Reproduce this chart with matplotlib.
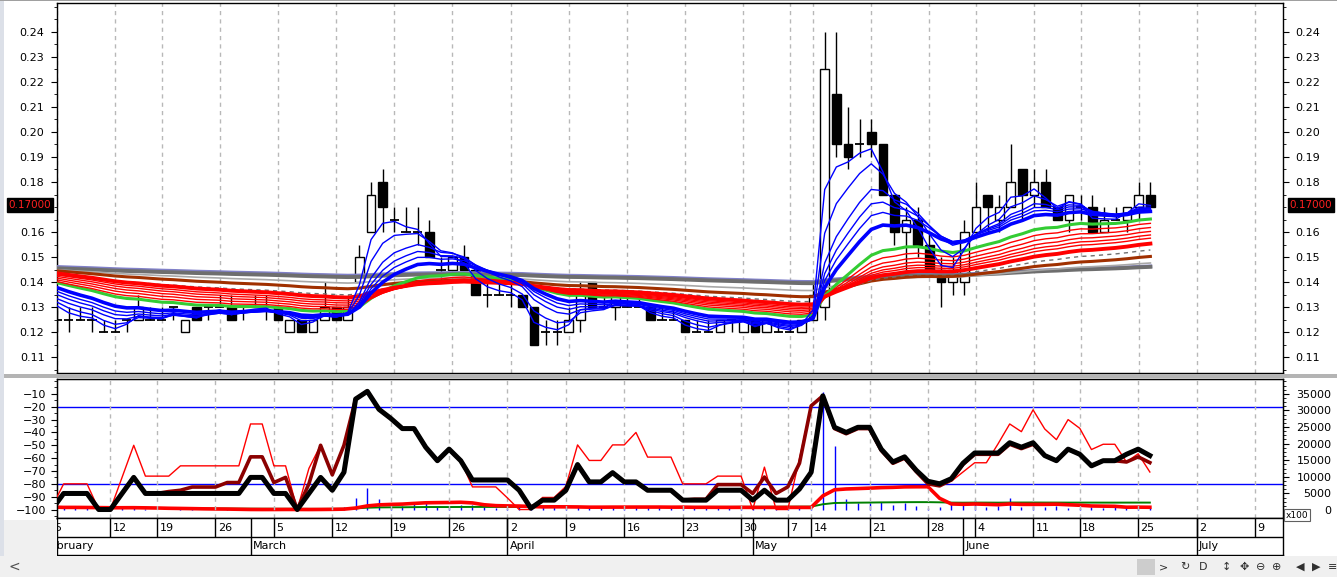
import numpy as np
import matplotlib
matplotlib.use('Agg')
import matplotlib.pyplot as plt
import pandas as pd
from matplotlib.patches import Rectangle
from matplotlib.ticker import MultipleLocator, FuncFormatter

plt.rcParams['font.family'] = ['DejaVu Sans']

# ---------------- data (trading-day index 0 = Feb 5) ----------------
opens = [0.125, 0.125, 0.125, 0.125, 0.12, 0.12, 0.125, 0.125, 0.125, 0.125,
         0.13, 0.12, 0.13, 0.13, 0.13, 0.13, 0.13, 0.13, 0.13, 0.13,
         0.12, 0.125, 0.12, 0.125, 0.13, 0.125, 0.14, 0.16, 0.18, 0.165,
         0.16, 0.16, 0.16, 0.145, 0.145, 0.15, 0.145, 0.135, 0.135, 0.135,
         0.135, 0.13, 0.12, 0.12, 0.12, 0.125, 0.14, 0.13, 0.13, 0.13,
         0.13, 0.13, 0.125, 0.125, 0.125, 0.12, 0.12, 0.12, 0.125, 0.12,
         0.125, 0.12, 0.12, 0.12, 0.12, 0.125, 0.13, 0.215, 0.195, 0.195,
         0.20, 0.195, 0.175, 0.16, 0.165, 0.155, 0.145, 0.14, 0.14, 0.16,
         0.175, 0.165, 0.17, 0.185, 0.175, 0.18, 0.17, 0.165, 0.17, 0.17,
         0.16, 0.165, 0.165, 0.17, 0.175]
highs = [0.13, 0.13, 0.13, 0.13, 0.125, 0.125, 0.125, 0.135, 0.13, 0.13,
         0.13, 0.125, 0.13, 0.13, 0.135, 0.135, 0.13, 0.135, 0.135, 0.13,
         0.125, 0.125, 0.125, 0.14, 0.13, 0.135, 0.155, 0.18, 0.185, 0.17,
         0.17, 0.17, 0.165, 0.15, 0.15, 0.155, 0.145, 0.14, 0.14, 0.14,
         0.135, 0.13, 0.125, 0.125, 0.13, 0.14, 0.14, 0.135, 0.135, 0.135,
         0.135, 0.13, 0.13, 0.13, 0.125, 0.125, 0.125, 0.125, 0.125, 0.125,
         0.125, 0.125, 0.125, 0.125, 0.125, 0.14, 0.24, 0.24, 0.21, 0.205,
         0.205, 0.195, 0.175, 0.17, 0.17, 0.16, 0.15, 0.15, 0.165, 0.18,
         0.175, 0.175, 0.195, 0.185, 0.185, 0.185, 0.17, 0.175, 0.175, 0.175,
         0.17, 0.17, 0.17, 0.18, 0.18]
lows = [0.12, 0.12, 0.125, 0.12, 0.12, 0.12, 0.12, 0.125, 0.125, 0.125,
        0.125, 0.12, 0.125, 0.125, 0.13, 0.125, 0.125, 0.13, 0.125, 0.125,
        0.12, 0.12, 0.12, 0.125, 0.125, 0.125, 0.14, 0.16, 0.16, 0.16,
        0.16, 0.155, 0.15, 0.14, 0.145, 0.145, 0.135, 0.13, 0.135, 0.13,
        0.13, 0.115, 0.115, 0.115, 0.12, 0.12, 0.13, 0.13, 0.125, 0.13,
        0.13, 0.125, 0.125, 0.125, 0.12, 0.12, 0.12, 0.12, 0.12, 0.12,
        0.12, 0.12, 0.12, 0.12, 0.12, 0.125, 0.125, 0.19, 0.185, 0.19,
        0.19, 0.175, 0.155, 0.145, 0.15, 0.145, 0.13, 0.135, 0.135, 0.16,
        0.16, 0.16, 0.17, 0.165, 0.17, 0.17, 0.165, 0.16, 0.165, 0.16,
        0.16, 0.165, 0.16, 0.165, 0.17]
closes = [0.125, 0.125, 0.125, 0.125, 0.12, 0.12, 0.125, 0.13, 0.125, 0.125,
          0.13, 0.125, 0.125, 0.13, 0.13, 0.125, 0.13, 0.13, 0.13, 0.125,
          0.125, 0.12, 0.125, 0.13, 0.125, 0.13, 0.15, 0.175, 0.17, 0.165,
          0.16, 0.16, 0.15, 0.145, 0.15, 0.145, 0.135, 0.135, 0.135, 0.135,
          0.13, 0.115, 0.12, 0.12, 0.125, 0.135, 0.13, 0.13, 0.135, 0.13,
          0.13, 0.125, 0.125, 0.125, 0.12, 0.12, 0.12, 0.125, 0.125, 0.125,
          0.12, 0.125, 0.12, 0.12, 0.125, 0.135, 0.225, 0.195, 0.19, 0.195,
          0.195, 0.175, 0.16, 0.165, 0.155, 0.145, 0.14, 0.145, 0.16, 0.17,
          0.17, 0.17, 0.18, 0.175, 0.18, 0.17, 0.165, 0.175, 0.17, 0.16,
          0.165, 0.165, 0.17, 0.175, 0.17]
volume = [900, 700, 800, 700, 600, 500, 700, 800, 300, 150,
          100, 200, 250, 100, 150, 200, 100, 200, 150, 200,
          250, 150, 100, 300, 500, 800, 3500, 6500, 3400, 1500,
          1200, 2200, 2000, 800, 900, 1500, 1500, 1000, 700, 700,
          800, 900, 800, 1000, 800, 1200, 800, 1000, 900, 700,
          900, 900, 800, 700, 900, 700, 800, 900, 800, 800,
          700, 900, 700, 800, 900, 600, 35600, 19200, 3300, 2000,
          2000, 2500, 1500, 2200, 1200, 700, 800, 2200, 2200, 3000,
          1000, 1300, 3700, 1000, 1200, 800, 1300, 500, 700, 800,
          500, 800, 1000, 1200, 800]
wr_black = [-100, -87.5, -87.5, -87.5, -100, -100, -87.5, -75, -87.5, -87.5,
            -87.5, -87.5, -87.5, -87.5, -87.5, -87.5, -87.5, -75, -75, -87.5,
            -87.5, -100, -87.5, -75, -85, -71, -14, -8, -22, -29,
            -37, -37, -51.5, -62, -53, -62, -77, -77, -77, -77,
            -85, -99, -92.7, -92.7, -85, -65, -78.5, -78.5, -71.3, -78.5,
            -78.5, -85, -85, -85, -92.7, -92.7, -92.7, -85, -85, -85,
            -92.7, -85, -92.7, -92.7, -84, -71, -11.5, -36, -40, -36,
            -36, -53, -63, -59, -69.5, -78, -80, -76, -64, -56,
            -56, -56, -48, -51.5, -48, -58, -62, -53, -57, -66,
            -62, -62, -57, -53, -58]
wr_darkred = [-100, -87.5, -87.5, -87.5, -100, -100, -87.5, -75, -87.5, -87.5,
              -86, -85, -82.5, -82.5, -82.5, -79, -79, -59, -59, -79,
              -75, -100, -80, -50, -73, -50, -14, -8, -22, -29,
              -37, -37, -51.5, -62, -53, -62, -77, -77, -77, -77,
              -85, -99, -92.7, -92.7, -85, -65, -78.5, -78.5, -71.3, -78.5,
              -78.5, -85, -85, -85, -92.7, -92, -92, -80.6, -80.6, -80.6,
              -87.5, -74.7, -87.5, -82.4, -64, -19.3, -11.5, -37, -41, -37,
              -37, -54, -64, -60, -70.5, -80, -81.6, -77, -65, -57,
              -57, -57, -49.2, -52.6, -49.2, -58, -62, -53, -57, -66,
              -62, -62, -63, -59, -63.5]
wr_red = [-98, -80, -80, -80, -100, -100, -75, -50, -74, -74,
          -74, -66, -66, -66, -66, -66, -66, -33.4, -33.4, -66,
          -66, -100, -68, -50, -73, -50, -14, -8, -22, -29,
          -37, -37, -51.5, -62, -53, -62, -82.4, -82.4, -82.4, -91,
          -100, -100, -90.6, -90.6, -82, -49.7, -61.8, -61.8, -49.7, -49.7,
          -40, -59.2, -59.2, -59.2, -80, -80, -80, -74, -74, -74,
          -100, -67, -100, -100, -60.5, -19.3, -11.5, -37, -41, -37,
          -37, -54, -64, -60, -70, -78, -79, -78, -70.8, -63.6,
          -63.6, -48.9, -33.4, -39.4, -22.4, -37.3, -45.6, -30, -36.8, -53.3,
          -49.2, -49.2, -63, -56.6, -70.8]

day_tick_idx = [0, 5, 9, 14, 19, 24, 29, 34, 39, 44, 49, 54, 59, 63, 65, 70,
                75, 79, 84, 88, 93, 98, 103]
day_tick_lab = ['5', '12', '19', '26', '5', '12', '19', '26', '2', '9', '16',
                '23', '30', '7', '14', '21', '28', '4', '11', '18', '25', '2', '9']
month_idx = [-0.8, 17, 39, 60, 78, 98]
month_lab = ['February', 'March', 'April', 'May', 'June', 'July']

# price-axis labels (0.17 is covered by the last-price tag)
price_ticks = [0.11, 0.12, 0.13, 0.14, 0.15, 0.16, 0.18, 0.19, 0.20, 0.21,
               0.22, 0.23, 0.24]

# moving-average settings: (period, value at day 0)
short_periods = [3, 5, 8, 10, 12, 15]
short_seeds = [0.1305, 0.132, 0.1334, 0.135, 0.1363, 0.1378]
long_periods = [30, 35, 40, 45, 50, 60]
long_seeds = [0.1402, 0.1409, 0.1416, 0.1423, 0.1429, 0.1435]
other_mas = [(25, 0.1398, '#33CC33', 2.2, '-'),
             (75, 0.1430, '#707070', 1.0, (0, (3, 3))),
             (100, 0.1445, '#A03000', 2.2, '-'),
             (150, 0.1449, '#A8A8A8', 1.2, '-'),
             (250, 0.1455, '#6E6E6E', 2.8, '-'),
             (260, 0.1461, '#8080C8', 2.6, '-')]


def ema(vals, period, seed):
    a = 2.0 / (period + 1)
    out = [seed]
    for v in vals[1:]:
        out.append(out[-1] + a * (v - out[-1]))
    return np.array(out)


# ---------------- figure ----------------
W, H = 1337, 577
fig = plt.figure(figsize=(W / 100, H / 100), dpi=100)
fig.patch.set_facecolor('white')


def box(l, t, r, b):
    return [l / W, 1 - b / H, (r - l) / W, (b - t) / H]


# background pieces
fig.patches.append(Rectangle((0, 0), 1, 21 / H, transform=fig.transFigure,
                             facecolor='#F0F0F0', edgecolor='none', zorder=0))
fig.patches.append(Rectangle((0, 21 / H), 57 / W, 36 / H, transform=fig.transFigure,
                             facecolor='#F0F0F0', edgecolor='none', zorder=0))
fig.patches.append(Rectangle((0, 1 - 378 / H), 1, 4 / H, transform=fig.transFigure,
                             facecolor='#B4B4B4', edgecolor='none', zorder=0))
fig.patches.append(Rectangle((0, 21 / H), 4 / W, 1 - 21 / H, transform=fig.transFigure,
                             facecolor='#DCE0E8', edgecolor='none', zorder=0))
fig.patches.append(Rectangle((0, 1 - 1 / H), 1, 1 / H, transform=fig.transFigure,
                             facecolor='#A0A0A0', edgecolor='none', zorder=0))

ax = fig.add_axes(box(57, 3, 1283, 373))
ax2 = fig.add_axes(box(57, 379, 1283, 518))
axd = fig.add_axes(box(57, 518, 1283, 555))
X0, X1 = 0.43, 105.4
for a in (ax, ax2, axd):
    a.set_xlim(X0, X1)
    for s in a.spines.values():
        s.set_color('black')
        s.set_linewidth(1)

n = len(closes)
idx = np.arange(n)
o = np.array(opens); h = np.array(highs); l = np.array(lows); c = np.array(closes)

# ---- main panel ----
ax.set_ylim(0.1037, 0.2515)
ax.set_xticks(day_tick_idx)
ax.tick_params(axis='x', length=0, labelbottom=False)
ax.grid(axis='x', color='#B8B8B8', linestyle=(0, (3, 3)), linewidth=1)
ax.set_yticks(price_ticks)
ax.yaxis.set_minor_locator(MultipleLocator(0.005))
ax.yaxis.set_major_formatter(FuncFormatter(lambda v, p: f'{v:.2f}'))
ax.tick_params(axis='y', which='both', direction='out', left=True, right=True,
               labelleft=True, labelright=True, labelsize=8, pad=5)
ax.tick_params(axis='y', which='major', length=4)
ax.tick_params(axis='y', which='minor', length=2)

ax.vlines(idx, l, h, color='black', lw=1, zorder=2)
up = c > o
dn = c < o
eq = c == o
ax.bar(idx[up], (c - o)[up], bottom=o[up], width=0.75, facecolor='white',
       edgecolor='black', linewidth=1, zorder=2.2)
ax.bar(idx[dn], (o - c)[dn], bottom=c[dn], width=0.75, facecolor='black',
       edgecolor='black', linewidth=1, zorder=2.2)
ax.hlines(c[eq], idx[eq] - 0.4, idx[eq] + 0.4, color='black', lw=1.3, zorder=2.2)

for per, seed, col, lw, ls in other_mas[::-1]:
    ax.plot(idx, ema(closes, per, seed), color=col, lw=lw, ls=ls, zorder=3)
for k, (per, seed) in enumerate(zip(long_periods, long_seeds)):
    ax.plot(idx, ema(closes, per, seed), color='#FF0000',
            lw=2.8 if k == len(long_periods) - 1 else 1.0, zorder=3.2)
for k, (per, seed) in enumerate(zip(short_periods, short_seeds)):
    ax.plot(idx, ema(closes, per, seed), color='#0000FF',
            lw=2.6 if k == len(short_periods) - 1 else 1.0, zorder=3.4)

last = f'{closes[-1]:.5f}'
for xa, dx in ((0, -27), (1, 28)):
    ax.annotate(last, xy=(xa, closes[-1]), xycoords=('axes fraction', 'data'),
                xytext=(dx, 2), textcoords='offset pixels', ha='center', va='center',
                fontsize=7.5, color='#FF2020', annotation_clip=False,
                bbox=dict(boxstyle='square,pad=0.15', facecolor='black', edgecolor='black'))

# ---- lower panel ----
ax2.set_ylim(-106.6, 1.6)
ax2.set_xticks(day_tick_idx)
ax2.tick_params(axis='x', length=0, labelbottom=False)
ax2.grid(axis='x', color='#B8B8B8', linestyle=(0, (3, 3)), linewidth=1)
ax2.set_yticks(np.arange(-100, -9, 10))
ax2.yaxis.set_minor_locator(MultipleLocator(5))
ax2.tick_params(axis='y', which='both', direction='out', labelsize=8, pad=4)
ax2.tick_params(axis='y', which='major', length=4)
ax2.tick_params(axis='y', which='minor', length=2)
ax2.axhline(-20, color='#0000FF', lw=1, zorder=1)
ax2.axhline(-80, color='#0000FF', lw=1, zorder=1)

axv = ax2.twinx()
axv.set_xlim(X0, X1)
axv.set_ylim(-2392, 39470)
axv.set_yticks(np.arange(0, 35001, 5000))
axv.yaxis.set_minor_locator(MultipleLocator(1250))
axv.tick_params(axis='y', which='both', direction='out', labelsize=8, pad=31)
axv.tick_params(axis='y', which='major', length=4)
axv.tick_params(axis='y', which='minor', length=2)
for t in axv.get_yticklabels():
    t.set_horizontalalignment('right')
vol = np.array(volume, dtype=float)
axv.vlines(idx, 0, vol, color='#0000FF', lw=1, zorder=2)
vs = pd.Series(vol)
axv.plot(idx, vs.rolling(50, min_periods=1).mean(), color='#008000', lw=1.4, zorder=3)
axv.plot(idx, vs.rolling(10, min_periods=1).mean(), color='#FF0000', lw=2.6, zorder=3)
axv.set_zorder(ax2.get_zorder() - 1)
ax2.patch.set_visible(False)
axv.patch.set_visible(True)
axv.patch.set_facecolor('white')

ax2.plot(idx, wr_red, color='#FF0000', lw=1.0, zorder=3)
ax2.plot(idx, wr_darkred, color='#8B0000', lw=2.6, zorder=4)
ax2.plot(idx, wr_black, color='black', lw=3.6, zorder=5)
for s in axv.spines.values():
    s.set_color('black')

fig.text(1297 / W, 1 - 515 / H, 'x100', fontsize=6.5, ha='center', va='center',
         bbox=dict(boxstyle='square,pad=0.15', facecolor='white', edgecolor='#606060', lw=0.8))

# ---- date axis ----
axd.set_ylim(0, 2)
axd.set_xticks([]); axd.set_yticks([])
axd.axhline(0.97, color='black', lw=1)
axd.vlines(day_tick_idx, 0.97, 2, color='black', lw=1)
for xi, lab in zip(day_tick_idx, day_tick_lab):
    axd.text(xi + 0.2, 1.47, lab, fontsize=8, ha='left', va='center', clip_on=True)
axd.vlines(month_idx[1:], 0, 2, color='black', lw=1)
for xi, lab in zip(month_idx, month_lab):
    axd.text(xi + 0.2, 0.47, lab, fontsize=8, ha='left', va='center', clip_on=True)

# ---- scrollbar strip ----
fig.text(14 / W, 10 / H, '<', fontsize=10, color='#505050', ha='center', va='center')
fig.patches.append(Rectangle((1137 / W, 2 / H), 18 / W, 16 / H, transform=fig.transFigure,
                             facecolor='#CDCDCD', edgecolor='none'))
for xp, s in ((1163, '>'), (1185, '↻'), (1203, 'D'), (1226, '↕'), (1244, '✥'),
              (1261, '⊖'), (1277, '⊕'), (1300, '◀'), (1316, '▶'), (1333, '≡')):
    fig.text(xp / W, 10 / H, s, fontsize=8, color='#303030', ha='center', va='center')

fig.savefig('out.png', dpi=100)
